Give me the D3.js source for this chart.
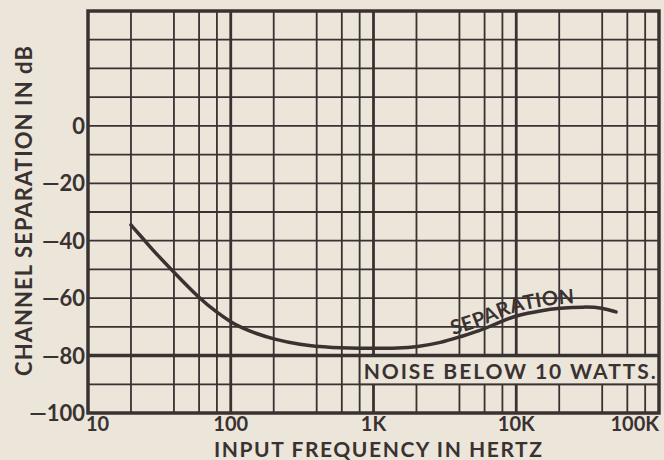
<!DOCTYPE html>
<html>
<head>
<meta charset="utf-8">
<script src="https://cdn.jsdelivr.net/npm/d3@7"></script>
<style>
  html, body { margin: 0; padding: 0; background: #ebe5da; }
  svg { display: block; }
  text { font-family: Lato, "DejaVu Sans", sans-serif; font-weight: 700; fill: #3a3231; }
</style>
</head>
<body>
<svg id="chart" width="664" height="460"></svg>
<script>
// separation curve (Hz, dB)
const freqs = [20, 25, 30, 40, 60, 80, 100, 120, 150, 200, 300, 500, 1000, 1500, 2000, 3000, 4000, 5500, 7500, 10000, 15000, 20000, 30000, 40000, 50000];
const sepDb = [-34.5, -40, -44.5, -51, -60, -65, -68.3, -70.4, -72.3, -74.3, -76.2, -77.3, -77.5, -77.4, -77, -75.5, -73.5, -71.5, -68.5, -66, -64.3, -63.5, -63, -63.3, -64.8];

// grid
const decades = [10, 100, 1000, 10000, 100000];
const gridMult = [2, 4, 6, 8];
const dbLines = [40, 30, 20, 10, 0, -10, -20, -30, -40, -50, -60, -70, -80, -90, -100];
const dbTicks = [0, -20, -40, -60, -80, -100];
const freqLabels = ["10", "100", "1K", "10K", "100K"];
const noiseFloor = -80, noiseBoxFrom = 800;

const INK = "#3a3231", PAPER = "#ebe5da";
const svg = d3.select("#chart");
const W = 664, H = 460;
const m = {left: 88, right: 5, top: 11, bottom: 47};

const x = d3.scaleLog().domain([10, 100000]).range([m.left, W - m.right]);
const y = d3.scaleLinear().domain([-100, 40]).range([H - m.bottom, m.top]);

// vertical grid: multiples in each decade, then decade lines a bit heavier
const minor = [];
decades.slice(0, -1).forEach(d => gridMult.forEach(k => minor.push(d * k)));
svg.append("g").selectAll("line").data(minor).enter().append("line")
  .attr("x1", d => x(d)).attr("x2", d => x(d))
  .attr("y1", y(40)).attr("y2", y(-100))
  .attr("stroke", INK).attr("stroke-width", 1.8);
svg.append("g").selectAll("line").data(decades.slice(1, -1)).enter().append("line")
  .attr("x1", d => x(d)).attr("x2", d => x(d))
  .attr("y1", y(40)).attr("y2", y(-100))
  .attr("stroke", INK).attr("stroke-width", 2.8);

// horizontal grid
svg.append("g").selectAll("line").data(dbLines).enter().append("line")
  .attr("x1", x(10)).attr("x2", x(100000))
  .attr("y1", d => y(d)).attr("y2", d => y(d))
  .attr("stroke", INK).attr("stroke-width", 1.8);

// noise label box (blanks out the grid behind it)
svg.append("rect")
  .attr("x", x(noiseBoxFrom)).attr("y", y(noiseFloor))
  .attr("width", x(100000) - x(noiseBoxFrom))
  .attr("height", y(noiseFloor - 10) - y(noiseFloor))
  .attr("fill", PAPER).attr("stroke", INK).attr("stroke-width", 1.8);

svg.append("text")
  .attr("x", x(noiseBoxFrom) + 4).attr("y", y(noiseFloor) + 23)
  .attr("font-size", 21)
  .attr("textLength", 292).attr("lengthAdjust", "spacing")
  .text("NOISE BELOW 10 WATTS.");

// noise floor line
svg.append("line")
  .attr("x1", x(10)).attr("x2", x(100000))
  .attr("y1", y(noiseFloor)).attr("y2", y(noiseFloor))
  .attr("stroke", INK).attr("stroke-width", 3.5);

// frame
svg.append("rect")
  .attr("x", x(10)).attr("y", y(40))
  .attr("width", x(100000) - x(10)).attr("height", y(-100) - y(40))
  .attr("fill", "none").attr("stroke", INK).attr("stroke-width", 3.5);

// separation curve
const pts = freqs.map((f, i) => [f, sepDb[i]]);
const line = d3.line().x(d => x(d[0])).y(d => y(d[1])).curve(d3.curveBasis);
svg.append("path").attr("d", line(pts))
  .attr("fill", "none").attr("stroke", INK).attr("stroke-width", 3.5)
  .attr("stroke-linecap", "round");

// label riding on the curve
const lift = d3.line().x(d => x(d[0])).y(d => y(d[1]) - 4).curve(d3.curveBasis);
svg.append("defs").append("path").attr("id", "sepPath").attr("d", lift(pts));
const startLen = (() => {
  const p = svg.append("path").attr("d", lift(pts.filter(d => d[0] <= 3000))).attr("fill", "none");
  const l = p.node().getTotalLength(); p.remove(); return l;
})();
svg.append("text").attr("font-size", 20).attr("letter-spacing", 0.4)
  .append("textPath").attr("href", "#sepPath")
  .attr("startOffset", startLen + 12)
  .text("SEPARATION");

// y tick labels
svg.append("g").selectAll("text").data(dbTicks).enter().append("text")
  .attr("x", m.left - 3).attr("y", d => y(d) + 8)
  .attr("text-anchor", "end").attr("font-size", 22)
  .text(d => d === 0 ? "0" : "\u2014" + Math.abs(d));

// x tick labels
svg.append("g").selectAll("text").data(decades).enter().append("text")
  .attr("x", (d, i) => x(d) + (i === 0 ? -2 : 0)).attr("y", 431)
  .attr("text-anchor", (d, i) => i === 0 ? "start" : i === decades.length - 1 ? "end" : "middle")
  .attr("font-size", 20)
  .text((d, i) => freqLabels[i]);

// axis titles
svg.append("text")
  .attr("x", 378).attr("y", 457).attr("text-anchor", "middle")
  .attr("font-size", 21)
  .attr("textLength", 328).attr("lengthAdjust", "spacing")
  .text("INPUT FREQUENCY IN HERTZ");

svg.append("text")
  .attr("transform", "translate(32,211) rotate(-90)")
  .attr("text-anchor", "middle")
  .attr("font-size", 22)
  .attr("textLength", 330).attr("lengthAdjust", "spacing")
  .text("CHANNEL SEPARATION IN dB");
</script>
</body>
</html>
